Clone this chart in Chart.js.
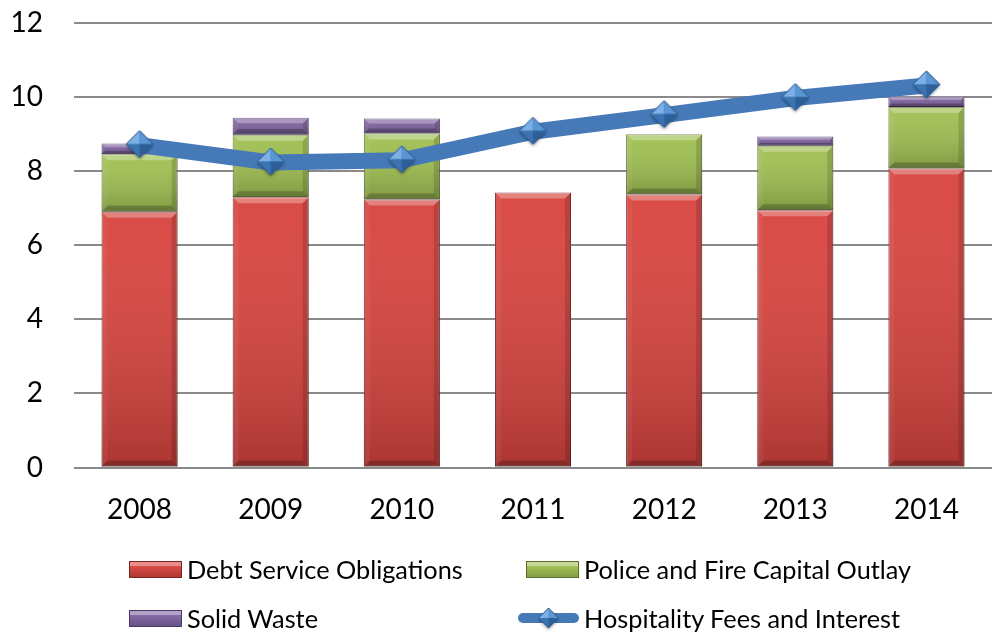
<!DOCTYPE html>
<html>
<head>
<meta charset="utf-8">
<title>Funding sources 2008-2014</title>
<script src="https://cdn.jsdelivr.net/npm/chart.js@4/dist/chart.umd.min.js"></script>
<style>
  html, body { margin: 0; padding: 0; background: #fff; overflow: hidden; }
  #wrap { position: relative; width: 999px; height: 632px; overflow: hidden; }
  #chart { position: absolute; left: 0; top: -25px; }
  #legend {
    position: absolute; left: 121px; top: 556px;
    display: grid; grid-template-columns: 397px auto; row-gap: 23px;
    font-family: Lato, "Open Sans", sans-serif; font-size: 25.3px; color: #000;
  }
  .item { display: flex; align-items: center; height: 26px; white-space: nowrap; }
  .sw { width: 61px; height: 26px; display: flex; align-items: center; justify-content: flex-end; margin-right: 5px; }
  .box { width: 53px; height: 17px; box-sizing: border-box; }
</style>
</head>
<body>
<div id="wrap">
  <canvas id="chart" width="1012" height="657"></canvas>
  <div id="legend"></div>
</div>
<script>
const years = ['2008', '2009', '2010', '2011', '2012', '2013', '2014']
const debtService = [6.90, 7.29, 7.23, 7.42, 7.37, 6.94, 8.07]
const policeFire = [1.55, 1.69, 1.78, 0, 1.62, 1.74, 1.66]
const solidWaste = [0.29, 0.46, 0.41, 0, 0, 0.25, 0.28]
const hospitality = [8.70, 8.23, 8.29, 9.06, 9.51, 9.97, 10.31]
const yTicks = [0, 2, 4, 6, 8, 10, 12]

const FONT = 'Lato, "Open Sans", sans-serif'
const AXIS_BOTTOM = 492.5 // zero line, in canvas pixels

// diamond marker with four shaded facets
function makeDiamond(r) {
  const size = Math.ceil(r * 2 + 8)
  const c = document.createElement('canvas')
  c.width = size
  c.height = size
  const g = c.getContext('2d')
  const cx = size / 2, cy = size / 2 - 1
  const top = [cx, cy - r], right = [cx + r, cy], bottom = [cx, cy + r], left = [cx - r, cy]
  g.save()
  g.shadowColor = 'rgba(0,0,0,0.35)'
  g.shadowBlur = 3
  g.shadowOffsetY = 2
  g.beginPath()
  g.moveTo(...top); g.lineTo(...right); g.lineTo(...bottom); g.lineTo(...left); g.closePath()
  g.fillStyle = '#3f78b8'
  g.fill()
  g.restore()
  const facets = [
    [top, left, '#7db0e6'],
    [top, right, '#5a95d4'],
    [left, bottom, '#3c74b3'],
    [bottom, right, '#2d5f99']
  ]
  facets.forEach(f => {
    g.beginPath()
    g.moveTo(cx, cy); g.lineTo(...f[0]); g.lineTo(...f[1]); g.closePath()
    g.fillStyle = f[2]
    g.fill()
  })
  g.beginPath()
  g.moveTo(...top); g.lineTo(...right); g.lineTo(...bottom); g.lineTo(...left); g.closePath()
  g.strokeStyle = '#2b5686'
  g.lineWidth = 1
  g.stroke()
  return c
}

function poly(ctx, pts, fill) {
  ctx.beginPath()
  ctx.moveTo(pts[0][0], pts[0][1])
  for (let i = 1; i < pts.length; i++) ctx.lineTo(pts[i][0], pts[i][1])
  ctx.closePath()
  ctx.fillStyle = fill
  ctx.fill()
}

// soft bevel over each bar segment
const bevelPlugin = {
  id: 'bevel',
  afterDatasetDraw(chart, args) {
    const meta = args.meta
    if (meta.type !== 'bar') return
    const ctx = chart.ctx
    meta.data.forEach(bar => {
      const { x, y, base, width } = bar.getProps(['x', 'y', 'base', 'width'], true)
      const left = x - width / 2, right = x + width / 2
      const top = Math.min(y, base), bottom = Math.max(y, base)
      const h = bottom - top
      if (h < 1) return
      const b = Math.min(6, h / 3)
      ctx.save()
      const g = ctx.createLinearGradient(0, top, 0, bottom)
      g.addColorStop(0, 'rgba(255,255,255,0.04)')
      g.addColorStop(1, 'rgba(0,0,0,0.2)')
      ctx.fillStyle = g
      ctx.fillRect(left, top, width, h)
      poly(ctx, [[left, top], [right, top], [right - b, top + b], [left + b, top + b]], 'rgba(255,255,255,0.3)')
      poly(ctx, [[left, top], [left + b, top + b], [left + b, bottom - b], [left, bottom]], 'rgba(255,255,255,0.05)')
      poly(ctx, [[right, top], [right - b, top + b], [right - b, bottom - b], [right, bottom]], 'rgba(0,0,0,0.14)')
      poly(ctx, [[left, bottom], [left + b, bottom - b], [right - b, bottom - b], [right, bottom]], 'rgba(0,0,0,0.22)')
      ctx.restore()
    })
  }
}

const diamond = makeDiamond(13.5)

function barSet(label, data, color, edge) {
  return {
    type: 'bar',
    label: label,
    data: data,
    backgroundColor: color,
    borderColor: edge,
    borderWidth: ctx => (ctx.raw ? 1 : 0),
    borderSkipped: false,
    stack: 'funds',
    order: 1,
    barPercentage: 0.58,
    categoryPercentage: 1
  }
}

const chart = new Chart(document.getElementById('chart'), {
  data: {
    labels: years,
    datasets: [
      {
        type: 'line',
        label: 'Hospitality Fees and Interest',
        data: hospitality,
        borderColor: '#4679b8',
        backgroundColor: '#4679b8',
        borderWidth: 16,
        borderCapStyle: 'butt',
        borderJoinStyle: 'round',
        tension: 0,
        pointStyle: diamond,
        stack: 'line',
        order: 0
      },
      barSet('Debt Service Obligations', debtService, '#d8443f', '#7a2422'),
      barSet('Police and Fire Capital Outlay', policeFire, '#a0c052', '#5a6e2c'),
      barSet('Solid Waste', solidWaste, '#8064a2', '#4a3866')
    ]
  },
  options: {
    responsive: false,
    animation: false,
    layout: { padding: { top: 0, left: 0, right: 1, bottom: 0 } },
    plugins: {
      legend: { display: false },
      tooltip: { enabled: false }
    },
    scales: {
      x: {
        stacked: true,
        grid: { display: false },
        border: { display: false },
        ticks: { color: '#000', padding: 18, font: { family: FONT, size: 28 } },
        afterFit: scale => { scale.height = 657 - AXIS_BOTTOM }
      },
      y: {
        stacked: true,
        min: 0,
        max: 12,
        afterBuildTicks: scale => { scale.ticks = yTicks.map(v => ({ value: v })) },
        grid: { color: '#8a8a8a', lineWidth: 2, drawTicks: false },
        border: { display: false },
        ticks: { color: '#000', padding: 31, font: { family: FONT, size: 28 } },
        afterFit: scale => { scale.width = 74 }
      }
    }
  },
  plugins: [bevelPlugin]
})

// legend in two columns: bars first, then waste and the line
const legendOrder = [1, 2, 3, 0]
const legendEl = document.getElementById('legend')
legendOrder.forEach(i => {
  const ds = chart.data.datasets[i]
  const item = document.createElement('div')
  item.className = 'item'
  const sw = document.createElement('div')
  sw.className = 'sw'
  if (ds.type === 'line') {
    const c = document.createElement('canvas')
    c.width = 61
    c.height = 26
    const g = c.getContext('2d')
    g.fillStyle = ds.borderColor
    g.beginPath()
    g.roundRect(0, 8, 61, 10, 5)
    g.fill()
    g.drawImage(makeDiamond(10), 30.5 - 14, 13 - 13)
    sw.appendChild(c)
  } else {
    const box = document.createElement('div')
    box.className = 'box'
    box.style.background = 'linear-gradient(to bottom, rgba(255,255,255,0.4) 0 4px, rgba(255,255,255,0.05) 4px, rgba(0,0,0,0.18)), ' + ds.backgroundColor
    box.style.border = '1px solid ' + ds.borderColor
    sw.appendChild(box)
  }
  const txt = document.createElement('span')
  txt.textContent = ds.label
  item.appendChild(sw)
  item.appendChild(txt)
  legendEl.appendChild(item)
})
</script>
</body>
</html>
